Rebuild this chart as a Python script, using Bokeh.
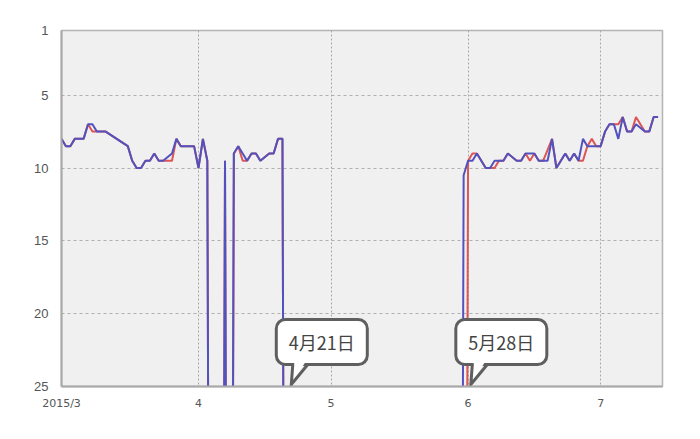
from datetime import datetime
import pandas as pd
from bokeh.plotting import figure
from bokeh.models import Range1d, FixedTicker
from bokeh.core.properties import value
from bokeh.embed import file_html
from bokeh.resources import INLINE

OUT = 100  # out of ranking (圏外)

blue_dates = ["2015-03-01", "2015-03-02", "2015-03-03", "2015-03-04", "2015-03-06", "2015-03-07",
              "2015-03-08", "2015-03-09", "2015-03-11", "2015-03-16", "2015-03-17", "2015-03-18",
              "2015-03-19", "2015-03-20", "2015-03-21", "2015-03-22", "2015-03-23", "2015-03-24",
              "2015-03-26", "2015-03-27", "2015-03-28", "2015-03-31", "2015-04-01", "2015-04-02",
              "2015-04-03", "2015-04-04", "2015-04-06", "2015-04-07", "2015-04-08", "2015-04-09",
              "2015-04-10", "2015-04-12", "2015-04-13", "2015-04-14", "2015-04-15", "2015-04-17",
              "2015-04-18", "2015-04-19", "2015-04-20", "2015-04-21", "2015-05-30", "2015-05-31",
              "2015-06-01", "2015-06-02", "2015-06-03", "2015-06-05", "2015-06-06", "2015-06-07",
              "2015-06-09", "2015-06-10", "2015-06-12", "2015-06-13", "2015-06-14", "2015-06-15",
              "2015-06-16", "2015-06-17", "2015-06-19", "2015-06-20", "2015-06-21", "2015-06-23",
              "2015-06-24", "2015-06-25", "2015-06-26", "2015-06-27", "2015-06-28", "2015-06-30",
              "2015-07-01", "2015-07-02", "2015-07-03", "2015-07-04", "2015-07-05", "2015-07-06",
              "2015-07-07", "2015-07-08", "2015-07-09", "2015-07-11", "2015-07-12", "2015-07-13",
              "2015-07-14"]
blue_ranks = [8.0, 8.5, 8.5, 8.0, 8.0, 7.0,
              7.0, 7.5, 7.5, 8.5, 9.5, 10,
              10, 9.5, 9.5, 9.0, 9.5, 9.5,
              9.0, 8.0, 8.5, 8.5, 10, 8.0,
              9.5, OUT, OUT, 9.5, OUT, 9.0,
              8.5, 9.5, 9.0, 9.0, 9.5, 9.0,
              9.0, 8.0, 8.0, OUT, OUT, 10.5,
              9.5, 9.5, 9.0, 10, 10, 9.5,
              9.5, 9.0, 9.5, 9.5, 9.0, 9.0,
              9.0, 9.5, 9.5, 8.0, 10, 9.0,
              9.5, 9.0, 9.5, 8.0, 8.5, 8.5,
              8.5, 7.5, 7.0, 7.0, 8.0, 6.5,
              7.5, 7.5, 7.0, 7.5, 7.5, 6.5,
              6.5]

red_dates = ["2015-03-01", "2015-03-02", "2015-03-03", "2015-03-04", "2015-03-06", "2015-03-07",
             "2015-03-08", "2015-03-11", "2015-03-16", "2015-03-17", "2015-03-18",
             "2015-03-19", "2015-03-20", "2015-03-21", "2015-03-22", "2015-03-23", "2015-03-24",
             "2015-03-26", "2015-03-27", "2015-03-28", "2015-03-31", "2015-04-01", "2015-04-02",
             "2015-04-03", "2015-04-04", "2015-04-06", "2015-04-07", "2015-04-08", "2015-04-09",
             "2015-04-10", "2015-04-11", "2015-04-12", "2015-04-13", "2015-04-14", "2015-04-15",
             "2015-04-17", "2015-04-18", "2015-04-19", "2015-04-20", "2015-04-21", "2015-05-31",
             "2015-06-01", "2015-06-02", "2015-06-03", "2015-06-05", "2015-06-07", "2015-06-08",
             "2015-06-09", "2015-06-10", "2015-06-12", "2015-06-13", "2015-06-14", "2015-06-15",
             "2015-06-16", "2015-06-17", "2015-06-18", "2015-06-19", "2015-06-20", "2015-06-21",
             "2015-06-23", "2015-06-24", "2015-06-25", "2015-06-26", "2015-06-27", "2015-06-28",
             "2015-06-29", "2015-06-30", "2015-07-01", "2015-07-02", "2015-07-03", "2015-07-04",
             "2015-07-05", "2015-07-06", "2015-07-07", "2015-07-08", "2015-07-09", "2015-07-11",
             "2015-07-12", "2015-07-13", "2015-07-14"]
red_ranks = [8.0, 8.5, 8.5, 8.0, 8.0, 7.0,
             7.5, 7.5, 8.5, 9.5, 10,
             10, 9.5, 9.5, 9.0, 9.5, 9.5,
             9.5, 8.0, 8.5, 8.5, 10, 8.0,
             9.5, OUT, OUT, 9.5, OUT, 9.0,
             8.5, 9.5, 9.5, 9.0, 9.0, 9.5,
             9.0, 9.0, 8.0, 8.0, OUT, OUT,
             9.5, 9.0, 9.0, 10, 10, 9.5,
             9.5, 9.0, 9.5, 9.5, 9.0, 9.5,
             9.0, 9.5, 9.5, 8.75, 8.0, 10,
             9.0, 9.5, 9.0, 9.5, 9.5, 8.5,
             8.0, 8.5, 8.5, 7.5, 7.0, 7.0,
             7.0, 6.5, 7.5, 7.5, 6.5, 7.5,
             7.5, 6.5, 6.5]

month_ticks = ["2015-03-01", "2015-04-01", "2015-05-01", "2015-06-01", "2015-07-01"]
month_labels = ["2015/3", "4", "5", "6", "7"]
rank_ticks = [1, 5, 10, 15, 20, 25]

callout_tips = ["2015-04-22 00:00", "2015-06-01 15:00"]
callout_texts = ["4月21日", "5月28日"]

# ---------------------------------------------------------------
X_START, X_END = datetime(2015, 3, 1), datetime(2015, 7, 15)
Y_TOP, Y_BOTTOM = 0.56, 25
W, H = 692, 431
ML, MR, MT, MB = 61, 30, 30, 45
FW, FH = W - ML - MR, H - MT - MB

p = figure(width=W, height=H, x_axis_type="datetime", output_backend="svg",
           toolbar_location=None, tools="",
           x_range=Range1d(X_START, X_END), y_range=Range1d(Y_BOTTOM, Y_TOP),
           min_border_left=ML, min_border_right=MR, min_border_top=MT, min_border_bottom=MB)
p.background_fill_color = "#f0f0f0"
p.border_fill_color = "white"
p.outline_line_color = "#b4b4b4"
p.outline_line_width = 1.5

def to_ms(s):
    return pd.Timestamp(s).value / 1e6

xt = [to_ms(s) for s in month_ticks]
p.xaxis.ticker = FixedTicker(ticks=xt)
p.xaxis.major_label_overrides = {t: l for t, l in zip(xt, month_labels)}
yt = [Y_TOP] + rank_ticks[1:]
p.yaxis.ticker = FixedTicker(ticks=yt)
p.yaxis.major_label_overrides = {Y_TOP: str(rank_ticks[0])}

for ax in (p.xaxis[0], p.yaxis[0]):
    ax.axis_line_color = "#a8a8a8"
    ax.axis_line_width = 2
    ax.major_tick_line_color = None
    ax.minor_tick_line_color = None
    ax.major_label_text_color = "#555555"
p.xaxis.major_label_text_font = "DejaVu Sans"
p.xaxis.major_label_text_font_size = "11px"
p.xaxis.major_label_standoff = 4
p.yaxis.major_label_text_font = "Liberation Sans"
p.yaxis.major_label_text_font_size = "13px"
p.yaxis.major_label_standoff = 7

p.xgrid.grid_line_color = "#a8a8a8"
p.xgrid.grid_line_dash = "2 2"
p.ygrid.grid_line_color = "#b0b0b0"
p.ygrid.grid_line_dash = "3 3"

bx = pd.to_datetime(blue_dates)
rx = pd.to_datetime(red_dates)
p.line(rx, red_ranks, line_color="#dd5555", line_width=2)
p.line(bx, blue_ranks, line_color="#5252bf", line_width=2)

# callouts
ms_per_px = (X_END - X_START).total_seconds() * 1000 / FW
rank_per_px = (Y_BOTTOM - Y_TOP) / FH
def px2(tip_ms, tip_rank, dx, dy):
    return tip_ms + dx * ms_per_px, tip_rank + dy * rank_per_px

BORDER = "#5f5f5f"
for tip, txt in zip(callout_tips, callout_texts):
    tms = to_ms(tip)
    tr = Y_BOTTOM - 2 * rank_per_px
    cx, cy = px2(tms, tr, 30.5, -42.5)
    p.rect(x=[cx], y=[cy], width=91, height=45, width_units="screen", height_units="screen",
           fill_color="white", line_color=BORDER, line_width=3, border_radius=9)
    fx, fy = zip(*[px2(tms, tr, 3, -23), px2(tms, tr, 1.5, -3), px2(tms, tr, 14.5, -23)])
    p.patch(list(fx), list(fy), fill_color="white", line_color=None)
    lx, ly = zip(*[px2(tms, tr, 1.5, -20), px2(tms, tr, 0, 0), px2(tms, tr, 16.5, -20)])
    p.line(list(lx), list(ly), line_color=BORDER, line_width=3, line_join="miter")
    p.text(x=[cx], y=[cy], text=[txt], text_align="center", text_baseline="middle",
           text_font=value("Noto Sans CJK JP"), text_font_size="18px", text_color="#444444")

open("out.html", "w").write(file_html(p, INLINE))
